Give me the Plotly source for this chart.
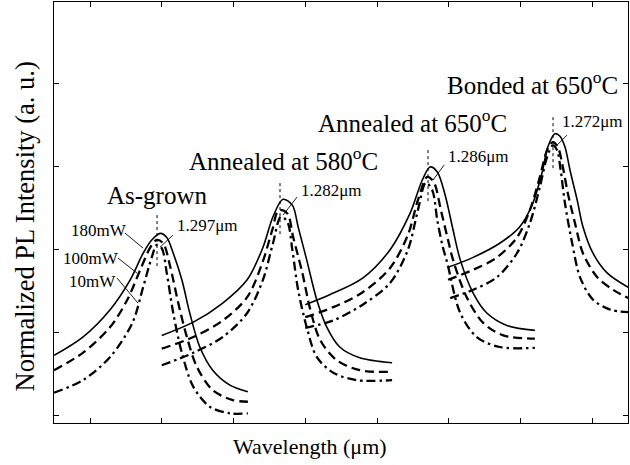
import plotly.graph_objects as go

# ---------------- data (arbitrary offset units; no tick labels on axes) ----------------
x_ticks = [0, 1, 2, 3, 4, 5, 6, 7]
y_ticks = [0, 1, 2, 3, 4]

# As-grown
g1_solid_x = [-0.50, -0.10, 0.28, 0.56, 0.74, 0.86, 0.98, 1.07, 1.16, 1.28, 1.39, 1.53, 1.71, 1.95, 2.20]
g1_solid_y = [0.72, 0.94, 1.27, 1.63, 1.95, 2.11, 2.19, 2.14, 1.95, 1.63, 1.23, 0.82, 0.54, 0.36, 0.28]
g1_dash_x = [-0.50, -0.10, 0.28, 0.52, 0.70, 0.84, 0.93, 1.02, 1.12, 1.23, 1.35, 1.49, 1.71, 1.99, 2.20]
g1_dash_y = [0.54, 0.75, 1.06, 1.39, 1.75, 2.02, 2.11, 2.07, 1.78, 1.35, 0.94, 0.58, 0.30, 0.18, 0.16]
g1_dd_x = [-0.50, -0.10, 0.28, 0.59, 0.74, 0.86, 0.93, 1.00, 1.07, 1.16, 1.28, 1.44, 1.67, 1.95, 2.20]
g1_dd_y = [0.27, 0.42, 0.70, 1.11, 1.54, 1.90, 2.05, 2.01, 1.71, 1.23, 0.75, 0.34, 0.10, 0.02, 0.02]

# Annealed at 580 C
g2_solid_x = [1.00, 1.44, 1.85, 2.19, 2.41, 2.55, 2.69, 2.82, 2.90, 3.02, 3.16, 3.30, 3.48, 3.76, 4.21]
g2_solid_y = [0.96, 1.12, 1.35, 1.63, 2.02, 2.39, 2.60, 2.53, 2.27, 1.87, 1.39, 1.06, 0.82, 0.69, 0.63]
g2_dash_x = [1.00, 1.44, 1.85, 2.19, 2.40, 2.54, 2.63, 2.75, 2.83, 2.96, 3.07, 3.21, 3.44, 3.76, 4.21]
g2_dash_y = [0.80, 0.94, 1.14, 1.42, 1.83, 2.23, 2.47, 2.43, 2.15, 1.71, 1.27, 0.90, 0.66, 0.54, 0.52]
g2_dd_x = [1.00, 1.44, 1.85, 2.19, 2.41, 2.55, 2.66, 2.75, 2.82, 2.90, 3.02, 3.16, 3.39, 3.72, 4.21]
g2_dd_y = [0.60, 0.75, 0.94, 1.23, 1.63, 2.07, 2.39, 2.33, 1.99, 1.51, 1.06, 0.70, 0.51, 0.42, 0.42]

# Annealed at 650 C
g3_solid_x = [3.00, 3.34, 3.80, 4.18, 4.46, 4.63, 4.74, 4.84, 4.95, 5.06, 5.16, 5.34, 5.53, 5.81, 6.20]
g3_solid_y = [1.33, 1.45, 1.65, 1.99, 2.43, 2.83, 2.99, 2.93, 2.65, 2.23, 1.87, 1.47, 1.23, 1.08, 1.02]
g3_dash_x = [3.00, 3.39, 3.80, 4.18, 4.43, 4.57, 4.70, 4.79, 4.89, 4.99, 5.06, 5.25, 5.48, 5.76, 6.20]
g3_dash_y = [1.18, 1.30, 1.48, 1.77, 2.17, 2.59, 2.87, 2.81, 2.47, 2.11, 1.87, 1.42, 1.11, 0.96, 0.92]
g3_dd_x = [3.00, 3.39, 3.80, 4.18, 4.43, 4.57, 4.68, 4.77, 4.84, 4.91, 4.98, 5.16, 5.39, 5.71, 6.20]
g3_dd_y = [1.05, 1.14, 1.33, 1.59, 1.99, 2.47, 2.80, 2.71, 2.35, 2.05, 1.83, 1.23, 0.94, 0.82, 0.81]

# Bonded at 650 C
g4_solid_x = [4.99, 5.34, 5.71, 5.99, 6.17, 6.30, 6.38, 6.48, 6.55, 6.62, 6.69, 6.79, 6.87, 7.01, 7.21, 7.50]
g4_solid_y = [1.78, 1.90, 2.07, 2.27, 2.55, 2.92, 3.23, 3.39, 3.36, 3.23, 2.95, 2.59, 2.27, 1.95, 1.71, 1.54]
g4_dash_x = [4.99, 5.34, 5.67, 5.95, 6.13, 6.27, 6.37, 6.45, 6.52, 6.59, 6.66, 6.76, 6.87, 7.07, 7.29, 7.50]
g4_dash_y = [1.63, 1.75, 1.90, 2.14, 2.47, 2.87, 3.19, 3.29, 3.23, 2.99, 2.67, 2.31, 1.95, 1.66, 1.51, 1.41]
g4_dd_x = [5.02, 5.34, 5.67, 5.95, 6.13, 6.27, 6.37, 6.45, 6.51, 6.56, 6.62, 6.72, 6.83, 7.01, 7.25, 7.50]
g4_dd_y = [1.41, 1.51, 1.66, 1.95, 2.31, 2.75, 3.11, 3.25, 3.19, 2.95, 2.55, 2.07, 1.66, 1.39, 1.27, 1.24]

# sample labels
sample_labels = ["As-grown", "Annealed at 580<sup>o</sup>C", "Annealed at 650<sup>o</sup>C", "Bonded at 650<sup>o</sup>C"]
sample_label_x = [0.93, 2.69, 4.50, 6.17]
sample_label_y = [2.65, 3.09, 3.54, 4.00]

# peak wavelength labels
peak_labels = ["1.297μm", "1.282μm", "1.286μm", "1.272μm"]
peak_label_x = [1.64, 3.37, 5.41, 7.01]
peak_label_y = [2.28, 2.71, 3.11, 3.54]
peak_leader_x0 = [1.157, 2.885, 4.934, 6.648]
peak_leader_y0 = [2.169, 2.627, 3.012, 3.373]
peak_leader_x1 = [0.976, 2.690, 4.780, 6.481]
peak_leader_y1 = [2.024, 2.410, 2.831, 3.229]
peak_mark_x = [0.934, 2.648, 4.711, 6.453]
peak_mark_y0 = [2.410, 2.795, 3.193, 3.590]
peak_mark_y1 = [1.771, 2.169, 2.566, 2.976]

# excitation power labels
power_labels = ["180mW", "100mW", "10mW"]
power_label_x = [0.12, 0.02, 0.03]
power_label_y = [2.22, 1.89, 1.61]
power_leader_x0 = [0.488, 0.390, 0.376]
power_leader_y0 = [2.193, 1.892, 1.651]
power_leader_x1 = [0.739, 0.655, 0.669]
power_leader_y1 = [2.012, 1.711, 1.349]

# ---------------- figure ----------------
FONT = "Liberation Serif, Times New Roman, serif"
styles = {
    "solid": dict(color="black", width=1.6, dash="solid"),
    "dash": dict(color="black", width=2.3, dash="9px,5px"),
    "dd": dict(color="black", width=2.3, dash="9px,4px,2.5px,4px"),
}
curves = [
    (g1_solid_x, g1_solid_y, "solid"), (g1_dash_x, g1_dash_y, "dash"), (g1_dd_x, g1_dd_y, "dd"),
    (g2_solid_x, g2_solid_y, "solid"), (g2_dash_x, g2_dash_y, "dash"), (g2_dd_x, g2_dd_y, "dd"),
    (g3_solid_x, g3_solid_y, "solid"), (g3_dash_x, g3_dash_y, "dash"), (g3_dd_x, g3_dd_y, "dd"),
    (g4_solid_x, g4_solid_y, "solid"), (g4_dash_x, g4_dash_y, "dash"), (g4_dd_x, g4_dd_y, "dd"),
]

fig = go.Figure()
for xs, ys, st in curves:
    fig.add_trace(go.Scatter(x=xs, y=ys, mode="lines", line=dict(shape="spline", smoothing=0.9, **styles[st]),
                             hoverinfo="skip", showlegend=False))

# dotted peak markers
for i in range(4):
    fig.add_trace(go.Scatter(x=[peak_mark_x[i], peak_mark_x[i]], y=[peak_mark_y0[i], peak_mark_y1[i]],
                             mode="lines", line=dict(color="black", width=1, dash="dot"),
                             hoverinfo="skip", showlegend=False))
# leader lines
for i in range(4):
    fig.add_trace(go.Scatter(x=[peak_leader_x0[i], peak_leader_x1[i]], y=[peak_leader_y0[i], peak_leader_y1[i]],
                             mode="lines", line=dict(color="black", width=0.9),
                             hoverinfo="skip", showlegend=False))
for i in range(3):
    fig.add_trace(go.Scatter(x=[power_leader_x0[i], power_leader_x1[i]], y=[power_leader_y0[i], power_leader_y1[i]],
                             mode="lines", line=dict(color="black", width=0.9),
                             hoverinfo="skip", showlegend=False))

annotations = []
for t, x, y in zip(sample_labels, sample_label_x, sample_label_y):
    annotations.append(dict(text=t, x=x, y=y, xref="x", yref="y", showarrow=False,
                            xanchor="center", yanchor="middle", font=dict(family=FONT, size=25, color="black")))
for t, x, y in zip(peak_labels, peak_label_x, peak_label_y):
    annotations.append(dict(text=t, x=x, y=y, xref="x", yref="y", showarrow=False,
                            xanchor="center", yanchor="middle", font=dict(family=FONT, size=17, color="black")))
for t, x, y in zip(power_labels, power_label_x, power_label_y):
    annotations.append(dict(text=t, x=x, y=y, xref="x", yref="y", showarrow=False,
                            xanchor="center", yanchor="middle", font=dict(family=FONT, size=17, color="black")))
annotations.append(dict(text="Wavelength (μm)", x=0.446, y=-0.057, xref="paper", yref="paper", showarrow=False,
                        xanchor="center", yanchor="middle", font=dict(family=FONT, size=22, color="black")))
annotations.append(dict(text="Normalized PL Intensity (a. u.)", x=-0.0505, y=0.467, xref="paper", yref="paper",
                        showarrow=False, textangle=-90, xanchor="center", yanchor="middle",
                        font=dict(family=FONT, size=26.5, color="black")))

axis_common = dict(showgrid=False, zeroline=False, showline=True, linecolor="black", linewidth=1.3,
                   mirror="ticks", ticks="inside", ticklen=5, tickwidth=1, tickcolor="black",
                   showticklabels=False)
fig.update_layout(
    width=630, height=465,
    margin=dict(l=54, r=2, t=2, b=42),
    paper_bgcolor="white", plot_bgcolor="white",
    xaxis=dict(range=[-0.502, 7.498], tickvals=x_ticks, **axis_common),
    yaxis=dict(range=[-0.096, 4.978], tickvals=y_ticks, **axis_common),
    annotations=annotations,
    font=dict(family=FONT, color="black"),
)
fig.write_html("out.html", config={"displayModeBar": False, "staticPlot": True},
               post_script="document.body.style.margin='0';document.body.style.overflow='hidden';")
